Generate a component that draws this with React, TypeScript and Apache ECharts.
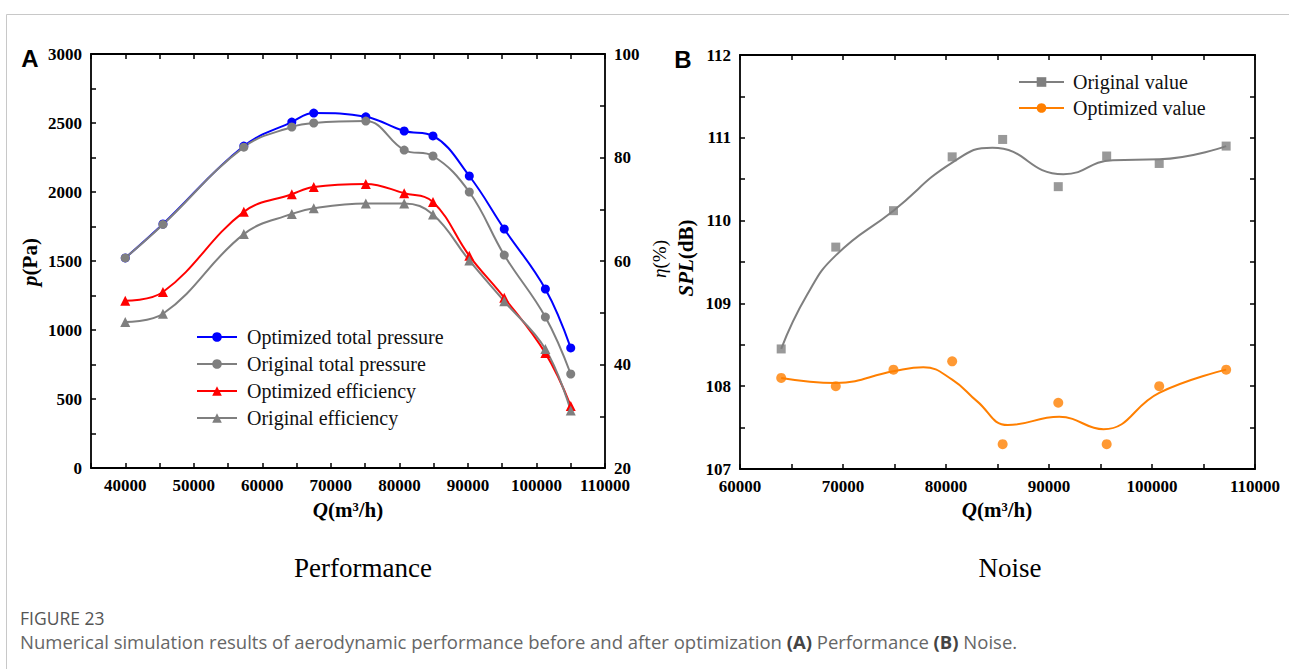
import React, { useEffect, useRef } from 'react';
import * as echarts from 'echarts';

// ---- Panel A: performance ----
const perfQ = [40000, 45500, 57300, 64300, 67500, 75100, 80700, 84900, 90200, 95300, 101300, 105000];
const optPressure = [1522, 1768, 2333, 2507, 2572, 2545, 2442, 2406, 2116, 1732, 1297, 870];
const origPressure = [1522, 1765, 2325, 2471, 2500, 2514, 2304, 2261, 2000, 1543, 1094, 681];
const optEfficiency = [52.3, 54.0, 69.5, 72.9, 74.3, 74.9, 73.1, 71.4, 61.0, 52.9, 42.2, 32.0];
const origEfficiency = [48.2, 49.8, 65.2, 69.1, 70.2, 71.1, 71.1, 69.0, 60.1, 52.2, 43.0, 31.1];

const perfQTicks = [40000, 50000, 60000, 70000, 80000, 90000, 100000, 110000];
const pressureTicks = [0, 500, 1000, 1500, 2000, 2500, 3000];
const efficiencyTicks = [20, 40, 60, 80, 100];

// ---- Panel B: noise ----
const noiseQ = [64000, 69300, 74900, 80600, 85500, 90900, 95600, 100700, 107200];
const origSPL = [108.45, 109.68, 110.12, 110.77, 110.98, 110.41, 110.78, 110.69, 110.9];
const optSPL = [108.1, 108.0, 108.2, 108.3, 107.3, 107.8, 107.3, 108.0, 108.2];

// fitted curves
const origFitQ = [64000, 66500, 69300, 74900, 80600, 84500, 91400, 96200, 100700, 107200];
const origFitSPL = [108.45, 109.1, 109.58, 110.12, 110.7, 110.88, 110.56, 110.73, 110.74, 110.9];
const optFitQ = [64000, 69300, 74900, 77800, 80600, 83000, 86000, 91000, 95300, 100700, 107200];
const optFitSPL = [108.1, 108.04, 108.18, 108.23, 108.08, 107.82, 107.53, 107.63, 107.48, 107.92, 108.2];

const noiseQTicks = [60000, 70000, 80000, 90000, 100000, 110000];
const splTicks = [107, 108, 109, 110, 111, 112];

const SERIF = 'Liberation Serif';
const pairs = (xs: number[], ys: number[]) => xs.map((x, i) => [x, ys[i]]);

function axis(
  gridIndex: number,
  position: string,
  min: number,
  max: number,
  interval: number,
  ticks: number[] | null
) {
  return {
    type: 'value',
    gridIndex,
    position,
    min,
    max,
    interval,
    axisLine: { show: true, onZero: false, lineStyle: { color: '#000', width: 1.8 } },
    axisTick: { show: true, inside: true, length: 5, lineStyle: { color: '#000', width: 1.5 } },
    axisLabel: {
      show: !!ticks,
      margin: 9,
      fontFamily: SERIF,
      fontWeight: 'bold',
      fontSize: 17,
      color: '#000',
      formatter: (v: number) => (ticks && ticks.includes(v) ? String(v) : ''),
    },
    splitLine: { show: false },
    minorTick: { show: false },
  };
}

const BLUE = '#0000ff';
const RED = '#ff0000';
const GRAY = '#7f7f7f';
const ORANGE = '#ff7f00';

export default function App() {
  const ref = useRef<HTMLDivElement>(null);
  useEffect(() => {
    document.body.style.margin = '0';
    const chart = echarts.init(ref.current!, undefined, { renderer: 'svg' });
    const legendText = { fontFamily: SERIF, fontSize: 20, color: '#111', lineHeight: 20 };
    const axisNameRich = (size: number) => ({
      i: { fontFamily: SERIF, fontStyle: 'italic', fontWeight: 'bold', fontSize: size, fill: '#000' },
      n: { fontFamily: SERIF, fontWeight: 'bold', fontSize: size, fill: '#000' },
      e: { fontFamily: SERIF, fontStyle: 'italic', fontSize: size, fill: '#000' },
      m: { fontFamily: SERIF, fontSize: size, fill: '#000' },
    });
    const vText = (x: number, y: number, text: string, size: number) => ({
      type: 'text',
      x,
      y,
      rotation: Math.PI / 2,
      style: {
        text,
        rich: axisNameRich(size),
        align: 'center',
        verticalAlign: 'middle',
        textAlign: 'center',
        textVerticalAlign: 'middle',
      },
    });
    const hText = (x: number, y: number, text: string, size: number) => ({
      type: 'text',
      x,
      y,
      style: {
        text,
        rich: axisNameRich(size),
        align: 'center',
        verticalAlign: 'middle',
        textAlign: 'center',
        textVerticalAlign: 'middle',
      },
    });
    const plain = (x: number, y: number, text: string, font: string, fill: string, align = 'center') => ({
      type: 'text',
      x,
      y,
      style: { text, font, fill, align, verticalAlign: 'middle', textAlign: align, textVerticalAlign: 'middle' },
    });

    chart.setOption({
      animation: false,
      backgroundColor: '#fff',
      grid: [
        { left: 91, top: 54, width: 514, height: 414, outerBoundsMode: 'none', containLabel: false },
        { left: 740, top: 55, width: 515, height: 414, outerBoundsMode: 'none', containLabel: false },
      ],
      xAxis: [
        axis(0, 'bottom', 35000, 110000, 5000, perfQTicks),
        axis(0, 'top', 35000, 110000, 5000, null),
        axis(1, 'bottom', 60000, 110000, 5000, noiseQTicks),
        axis(1, 'top', 60000, 110000, 5000, null),
      ],
      yAxis: [
        axis(0, 'left', 0, 3000, 250, pressureTicks),
        axis(0, 'right', 20, 100, 10, efficiencyTicks),
        axis(1, 'left', 107, 112, 0.5, splTicks),
        axis(1, 'right', 107, 112, 0.5, null),
      ],
      legend: [
        {
          data: ['Optimized total pressure', 'Original total pressure', 'Optimized efficiency', 'Original efficiency'],
          orient: 'vertical',
          left: 196,
          top: 327,
          itemWidth: 40,
          itemHeight: 12,
          itemGap: 7,
          padding: 0,
          selectedMode: false,
          textStyle: { ...legendText, padding: [0, 0, 0, 5] },
        },
        {
          data: ['Original value', 'Optimized value'],
          orient: 'vertical',
          left: 1018,
          top: 72,
          itemWidth: 45,
          itemHeight: 12,
          itemGap: 6,
          padding: 0,
          selectedMode: false,
          textStyle: { ...legendText, padding: [0, 0, 0, 4] },
        },
      ],
      series: [
        {
          name: 'Optimized total pressure',
          type: 'line',
          xAxisIndex: 0,
          yAxisIndex: 0,
          smooth: 0.4,
          symbol: 'circle',
          symbolSize: 9,
          color: BLUE,
          lineStyle: { width: 2, color: BLUE },
          data: pairs(perfQ, optPressure),
        },
        {
          name: 'Optimized efficiency',
          type: 'line',
          xAxisIndex: 0,
          yAxisIndex: 1,
          smooth: 0.4,
          symbol: 'triangle',
          symbolSize: 10,
          color: RED,
          lineStyle: { width: 2, color: RED },
          data: pairs(perfQ, optEfficiency),
        },
        {
          name: 'Original total pressure',
          type: 'line',
          xAxisIndex: 0,
          yAxisIndex: 0,
          smooth: 0.4,
          symbol: 'circle',
          symbolSize: 9,
          color: GRAY,
          lineStyle: { width: 2, color: GRAY },
          data: pairs(perfQ, origPressure),
        },
        {
          name: 'Original efficiency',
          type: 'line',
          xAxisIndex: 0,
          yAxisIndex: 1,
          smooth: 0.4,
          symbol: 'triangle',
          symbolSize: 10,
          color: GRAY,
          lineStyle: { width: 2, color: GRAY },
          data: pairs(perfQ, origEfficiency),
        },
        {
          name: 'Original value',
          type: 'line',
          xAxisIndex: 2,
          yAxisIndex: 2,
          smooth: 0.5,
          showSymbol: false,
          symbol: 'rect',
          symbolSize: 9,
          color: GRAY,
          lineStyle: { width: 2, color: GRAY },
          data: pairs(origFitQ, origFitSPL),
        },
        {
          name: 'Optimized value',
          type: 'line',
          xAxisIndex: 2,
          yAxisIndex: 2,
          smooth: 0.45,
          showSymbol: false,
          symbol: 'circle',
          symbolSize: 9,
          color: ORANGE,
          lineStyle: { width: 2, color: ORANGE },
          data: pairs(optFitQ, optFitSPL),
        },
        {
          name: 'Original value points',
          type: 'scatter',
          xAxisIndex: 2,
          yAxisIndex: 2,
          symbol: 'rect',
          symbolSize: 9,
          itemStyle: { color: GRAY },
          data: pairs(noiseQ, origSPL),
        },
        {
          name: 'Optimized value points',
          type: 'scatter',
          xAxisIndex: 2,
          yAxisIndex: 2,
          symbol: 'circle',
          symbolSize: 10,
          itemStyle: { color: ORANGE },
          data: pairs(noiseQ, optSPL),
        },
      ],
      graphic: [
        { type: 'line', shape: { x1: 6.5, y1: 14.5, x2: 1289, y2: 14.5 }, style: { stroke: '#c8c8c8', lineWidth: 1 } },
        { type: 'line', shape: { x1: 6.5, y1: 14.5, x2: 6.5, y2: 669 }, style: { stroke: '#c8c8c8', lineWidth: 1 } },
        plain(30, 58, 'A', 'bold 24px "Liberation Sans", Arial, sans-serif', '#000'),
        plain(683, 59, 'B', 'bold 24px "Liberation Sans", Arial, sans-serif', '#000'),
        vText(30, 262, '{i|p}{n|(Pa)}', 21),
        vText(659, 259, '{e|η}{m|(%)}', 19),
        vText(686, 258, '{i|SPL}{n|(dB)}', 21),
        hText(348, 510, '{i|Q}{n|(m³/h)}', 21),
        hText(997, 510, '{i|Q}{n|(m³/h)}', 21),
        plain(363, 568, 'Performance', '27px "Liberation Serif", serif', '#000'),
        plain(1010, 568, 'Noise', '27px "Liberation Serif", serif', '#000'),
        plain(20, 618, 'FIGURE 23', '17.5px "Open Sans", sans-serif', '#555', 'left'),
        {
          type: 'text',
          x: 20,
          y: 641,
          style: {
            text: 'Numerical simulation results of aerodynamic performance before and after optimization {b|(A)} Performance {b|(B)} Noise.',
            font: '18.5px "Open Sans", sans-serif',
            fill: '#666',
            align: 'left',
            verticalAlign: 'middle',
            textAlign: 'left',
            textVerticalAlign: 'middle',
            rich: {
              b: { fontFamily: 'Open Sans', fontSize: 18.5, fontWeight: 'bold', fill: '#444' },
            },
          },
        },
      ],
    });
    return () => chart.dispose();
  }, []);
  return (
    <div
      ref={ref}
      style={{ position: 'absolute', left: 0, top: 0, width: 1289, height: 669, background: '#fff' }}
    />
  );
}
